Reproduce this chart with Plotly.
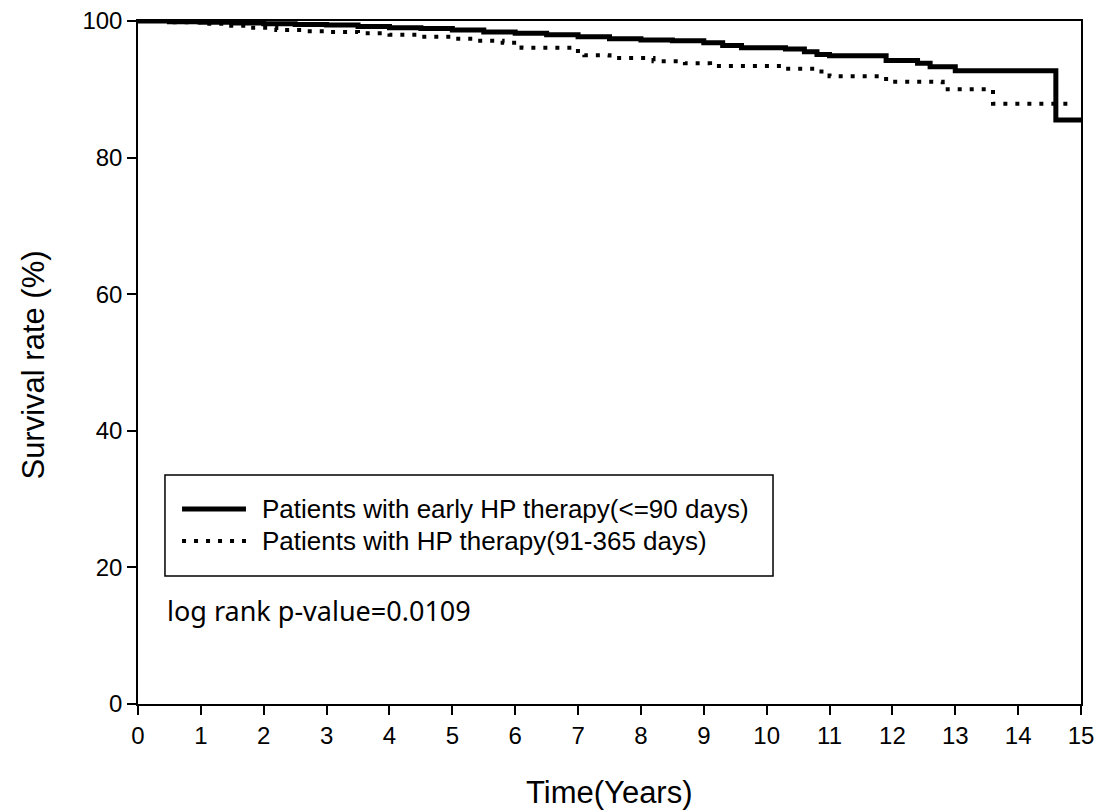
import plotly.graph_objects as go

# Kaplan-Meier style step data
early_t = [0, 0.5, 1, 1.5, 2, 2.5, 3, 3.5, 4, 4.5, 5, 5.5, 6, 6.5, 7, 7.5, 8, 8.5, 9, 9.3, 9.6,
           10.3, 10.6, 10.8, 11.0, 11.9, 12.4, 12.6, 13.0, 14.6, 15]
early_s = [100, 99.9, 99.8, 99.7, 99.6, 99.5, 99.4, 99.2, 99.0, 98.9, 98.7, 98.4, 98.2, 98.0, 97.7,
           97.4, 97.2, 97.1, 96.8, 96.4, 96.1, 95.9, 95.5, 95.1, 94.9, 94.2, 93.8, 93.3, 92.7, 85.5, 85.5]

late_t = [0, 0.5, 1.0, 1.4, 1.8, 2.2, 2.6, 3.0, 3.5, 4.0, 4.5, 5.0, 5.4, 5.8, 6.1, 6.9, 7.1, 7.5,
          8.2, 8.7, 9.1, 10.3, 10.8, 11.0, 11.9, 12.8, 13.6, 14.9]
late_s = [100, 99.8, 99.6, 99.3, 99.0, 98.7, 98.5, 98.4, 98.2, 98.0, 97.7, 97.4, 97.1, 96.8, 96.1,
          95.6, 95.0, 94.6, 94.1, 93.8, 93.4, 93.0, 92.6, 91.9, 91.1, 90.0, 87.9, 87.9]

series_names = ["Patients with early HP therapy(<=90 days)", "Patients with HP therapy(91-365 days)"]
x_ticks = list(range(0, 16))
y_ticks = [0, 20, 40, 60, 80, 100]
x_title = "Time(Years)"
y_title = "Survival rate (%)"
p_text = "log rank p-value=0.0109"

SOLID = dict(color="black", width=5)
DOTTED = dict(color="black", width=4, dash="4px,8px")

fig = go.Figure()
fig.add_trace(go.Scatter(x=early_t, y=early_s, mode="lines", line_shape="hv",
                         line=SOLID, name=series_names[0], showlegend=False))
fig.add_trace(go.Scatter(x=late_t, y=late_s, mode="lines", line_shape="hv",
                         line=DOTTED, name=series_names[1], showlegend=False))

FONT = "Liberation Sans, Arial"
axis_font = dict(family=FONT, size=24, color="black")
title_font = dict(family=FONT, size=31, color="black")
leg_font = dict(family=FONT, size=26, color="black")

# legend drawn as a boxed key (paper coordinates)
box = dict(x0=0.0286, x1=0.6734, y0=0.1874, y1=0.3353)
key_x = (0.0467, 0.1145)
key_y = [0.2855, 0.2387]
text_x = 0.1294

shapes = [dict(type="rect", xref="paper", yref="paper", line=dict(color="black", width=1.5),
               fillcolor="white", layer="above", **box),
          dict(type="line", xref="paper", yref="paper", x0=key_x[0], x1=key_x[1],
               y0=key_y[0], y1=key_y[0], line=SOLID, layer="above"),
          dict(type="line", xref="paper", yref="paper", x0=key_x[0], x1=key_x[1],
               y0=key_y[1], y1=key_y[1], line=DOTTED, layer="above")]

annotations = [dict(text=series_names[i], x=text_x, y=key_y[i], xref="paper", yref="paper",
                    xanchor="left", yanchor="middle", showarrow=False, font=leg_font)
               for i in range(2)]
annotations.append(dict(text=p_text, x=0.0286, y=0.1376, xref="paper", yref="paper",
                        xanchor="left", yanchor="middle", showarrow=False,
                        font=dict(family="Noto Sans, Open Sans", size=27, color="black")))
# axis titles
annotations.append(dict(text=x_title, x=0.5005, y=-0.129, xref="paper", yref="paper",
                        xanchor="center", yanchor="middle", showarrow=False, font=title_font))
annotations.append(dict(text=y_title, x=-0.1113, y=0.4956, xref="paper", yref="paper",
                        xanchor="center", yanchor="middle", showarrow=False, textangle=-90,
                        font=title_font))

fig.update_layout(
    width=1104, height=803,
    margin=dict(l=130, r=31, t=13, b=107),
    paper_bgcolor="white", plot_bgcolor="white",
    showlegend=False,
    xaxis=dict(range=[0, 15], tickvals=x_ticks, ticks="outside", ticklen=9, tickwidth=1.5,
               tickcolor="black", showline=True, linecolor="black", linewidth=1.5, mirror=True,
               showgrid=False, zeroline=False, tickfont=axis_font, automargin=False,
               ticklabeloverflow="allow"),
    yaxis=dict(range=[0, 100], tickvals=y_ticks, ticks="outside", ticklen=9, tickwidth=1.5,
               tickcolor="black", showline=True, linecolor="black", linewidth=1.5, mirror=True,
               showgrid=False, zeroline=False, tickfont=axis_font, automargin=False,
               ticklabeloverflow="allow", ticksuffix="\u2002"),
    shapes=shapes,
    annotations=annotations,
)

fig.write_html("out.html")
